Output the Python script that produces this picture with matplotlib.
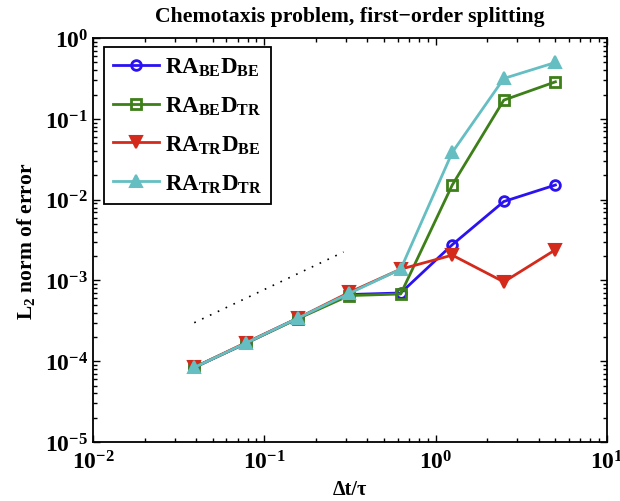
import matplotlib
matplotlib.use("Agg")
import matplotlib.pyplot as plt
from matplotlib.ticker import LogLocator, NullFormatter

plt.rcParams['font.family'] = ['Liberation Serif', 'DejaVu Serif']
plt.rcParams['font.weight'] = 'bold'
plt.rcParams['mathtext.fontset'] = 'custom'
plt.rcParams['mathtext.rm'] = 'Liberation Serif:bold'
plt.rcParams['mathtext.bf'] = 'Liberation Serif:bold'
plt.rcParams['mathtext.it'] = 'Liberation Serif:bold'

dt = [5/128, 5/64, 5/32, 5/16, 5/8, 5/4, 5/2, 5]
ra_be_d_be = [8.4e-5, 1.67e-4, 3.4e-4, 6.7e-4, 7.0e-4, 2.77e-3, 9.5e-3, 1.52e-2]
ra_be_d_tr = [8.4e-5, 1.67e-4, 3.35e-4, 6.5e-4, 6.8e-4, 1.52e-2, 0.171, 0.288]
ra_tr_d_be = [8.4e-5, 1.7e-4, 3.4e-4, 7.1e-4, 1.38e-3, 2.06e-3, 9.6e-4, 2.4e-3]
ra_tr_d_tr = [8.4e-5, 1.68e-4, 3.4e-4, 6.9e-4, 1.38e-3, 3.85e-2, 0.317, 0.50]
ref_x = [0.039, 0.29]
ref_y = [3.0e-4, 2.25e-3]

labels = [r'$\mathrm{RA_{BE}D_{BE}}$', r'$\mathrm{RA_{BE}D_{TR}}$',
          r'$\mathrm{RA_{TR}D_{BE}}$', r'$\mathrm{RA_{TR}D_{TR}}$']

fig = plt.figure(figsize=(6.2, 5.02), dpi=100)
ax = fig.add_axes([0.15, 0.1175, 0.829, 0.8045])

lw = 2.0
ax.loglog(dt, ra_be_d_be, '-o', color='#2a12f2', lw=lw, ms=7, mfc='none', mew=2, label=labels[0])
ax.loglog(dt, ra_be_d_tr, '-s', color='#3d7f18', lw=lw, ms=7, mfc='none', mew=2, label=labels[1])
ax.loglog(dt, ra_tr_d_be, '-v', color='#d42a1c', lw=lw, ms=8, mew=1.5, label=labels[2])
ax.loglog(dt, ra_tr_d_tr, '-^', color='#64bec2', lw=lw, ms=8, mew=1.5, label=labels[3])
ax.loglog(ref_x, ref_y, color='black', lw=1.2, linestyle=(0, (1, 4.2)))

ax.set_xlim(1e-2, 1e1)
ax.set_ylim(1e-5, 1e0)
ax.xaxis.set_major_locator(LogLocator(base=10, numticks=10))
ax.yaxis.set_major_locator(LogLocator(base=10, numticks=10))
ax.xaxis.set_minor_locator(LogLocator(base=10, subs=range(2, 10), numticks=20))
ax.yaxis.set_minor_locator(LogLocator(base=10, subs=range(2, 10), numticks=20))
ax.xaxis.set_minor_formatter(NullFormatter())
ax.yaxis.set_minor_formatter(NullFormatter())
ax.tick_params(which='both', direction='in', top=True, right=True, labelsize=17, width=1.0)
ax.tick_params(which='major', length=5)
ax.tick_params(which='minor', length=3)
ax.tick_params(axis='x', pad=6)
for s in ax.spines.values():
    s.set_linewidth(1.3)

ax.set_title('Chemotaxis problem, first\u2212order splitting', fontsize=15.7, fontweight='bold', pad=12)
ax.set_xlabel('\u0394t/\u03c4', fontsize=14.5, fontweight='bold', labelpad=4)
ax.set_ylabel(r'L$_\mathrm{2}$ norm of error', fontsize=15.5, fontweight='bold', labelpad=6)

leg = ax.legend(loc='upper left', bbox_to_anchor=(0.022, 0.979), fontsize=16.5, frameon=True,
                fancybox=False, edgecolor='black', framealpha=1, borderaxespad=0,
                handlelength=2.0, labelspacing=0.72, borderpad=0.4, handletextpad=0.25)
leg.get_frame().set_linewidth(1.3)

fig.savefig('out.png', dpi=100)
